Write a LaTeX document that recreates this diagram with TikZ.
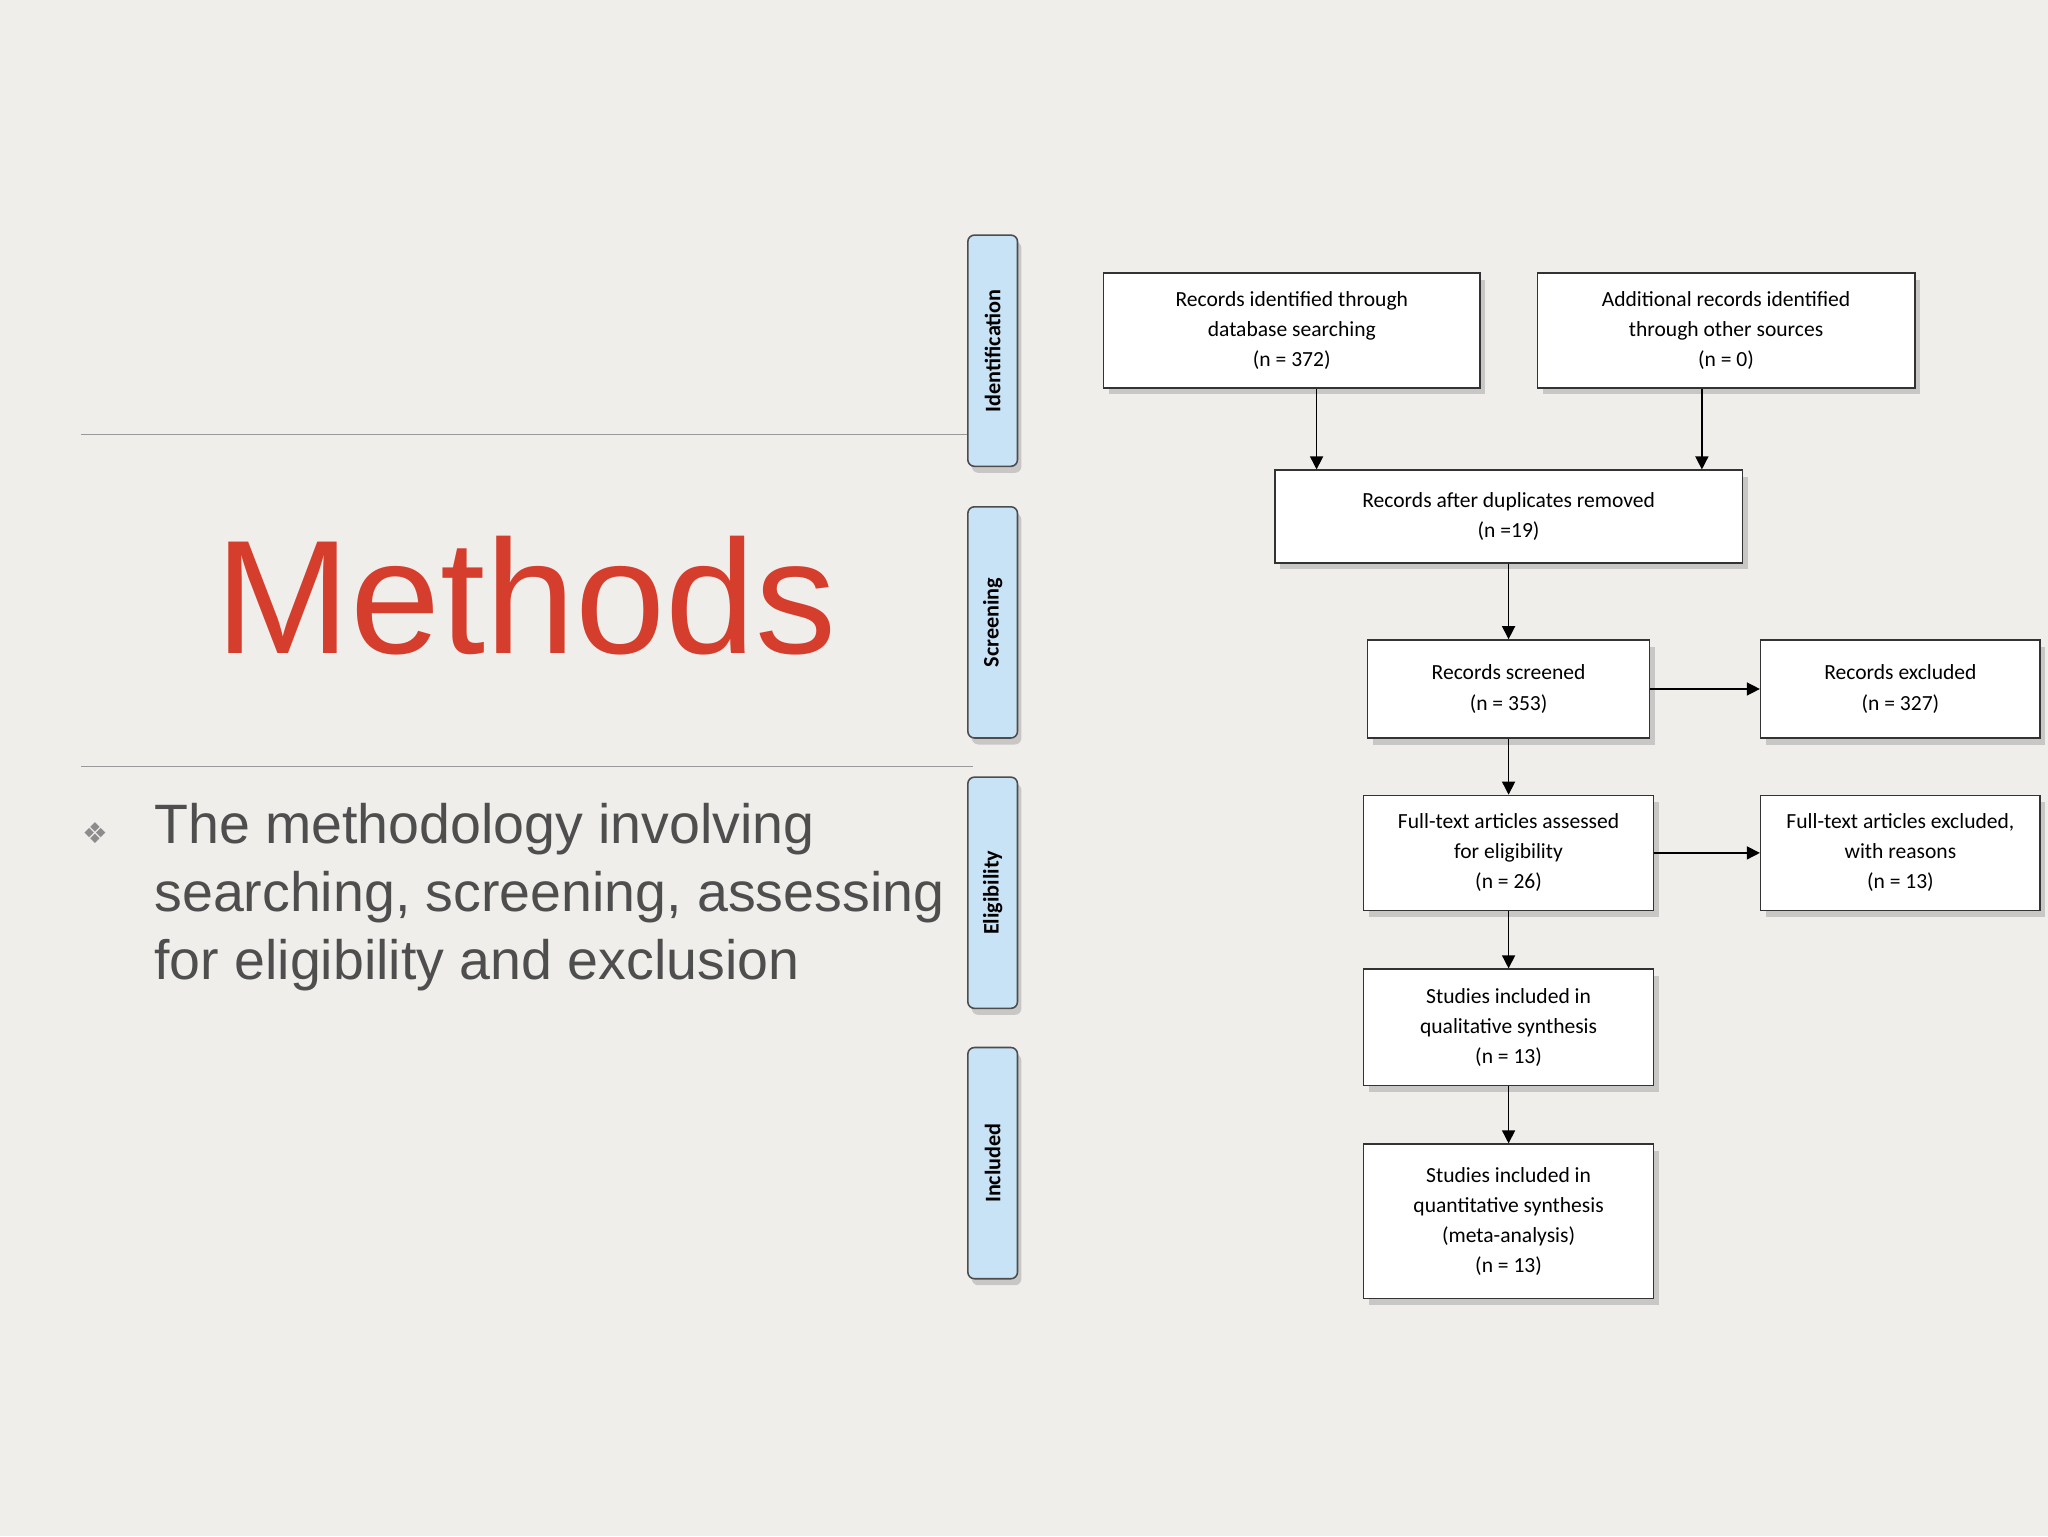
\documentclass[tikz,border=0pt]{standalone}
\usepackage{fontspec}
\setmainfont{Liberation Sans}
\newfontfamily\boxfont{Carlito}
\usetikzlibrary{shadows,arrows.meta}
\definecolor{bg}{RGB}{240,238,235}
\definecolor{mred}{RGB}{213,62,45}
\definecolor{tgray}{RGB}{78,78,78}
\definecolor{tabblue}{RGB}{200,226,246}
\tikzset{
 fbox/.style={draw=black!80,line width=1.2pt,fill=white,align=center,font=\boxfont\fontsize{16.5}{23}\selectfont,drop shadow={shadow xshift=4pt,shadow yshift=-5pt,opacity=0.35}},
 tab/.style={draw=black!70,line width=1.2pt,fill=tabblue,rounded corners=5pt,drop shadow={shadow xshift=3pt,shadow yshift=-5pt,opacity=0.35}},
 arr/.style={line width=1.1pt,-{Triangle[length=10pt,width=10pt]}}
}
\begin{document}
\begin{tikzpicture}[x=1pt,y=-1pt]
\fill[bg] (0,0) rectangle (1568,1176);
\useasboundingbox (0,0) rectangle (1568,1176);
\draw[black!40,line width=0.8pt] (62,333) -- (740,333);
\draw[black!40,line width=0.8pt] (62,587) -- (745,587);
\node[text=mred,font=\fontsize{124}{140}\selectfont] (title) at (403,456) {Methods};
\node[text=black!45,font=\fontsize{22}{24}\selectfont,anchor=west] (bul) at (60,638) {\fontspec{DejaVu Sans}❖};
\node[text=tgray,font=\fontsize{42.5}{52}\selectfont,anchor=north west,align=left,inner sep=0pt] (btxt) at (118,615) {The methodology involving\\searching, screening, assessing\\for eligibility and exclusion};
% tabs
\foreach \n/\t/\b/\lab in {t1/180/357/Identification,t2/388/565/Screening,t3/595/772/Eligibility,t4/802/979/Included}{
 \draw[tab] (741,\t) rectangle (779,\b);
 \node[rotate=90,font=\boxfont\bfseries\fontsize{17}{20}\selectfont] (\n) at (760,{(\t+\b)/2}) {\lab};
}
% boxes
\node[fbox,minimum width=288pt,minimum height=88pt] (A) at (989,253) {Records identified through\\database searching\\(n = 372)};
\node[fbox,minimum width=289pt,minimum height=88pt] (B) at (1321.5,253) {Additional records identified\\through other sources\\(n = 0)};
\node[fbox,minimum width=358pt,minimum height=71pt] (C) at (1155,395.5) {Records after duplicates removed\\(n =19)};
\node[fbox,minimum width=216pt,minimum height=75pt] (D) at (1155,527.5) {Records screened\\(n = 353)};
\node[fbox,minimum width=214pt,minimum height=75pt] (E) at (1455,527.5) {Records excluded\\(n = 327)};
\node[fbox,minimum width=222pt,minimum height=88pt] (F) at (1155,653) {Full-text articles assessed\\for eligibility\\(n = 26)};
\node[fbox,minimum width=214pt,minimum height=88pt] (G) at (1455,653) {Full-text articles excluded,\\with reasons\\(n = 13)};
\node[fbox,minimum width=222pt,minimum height=89pt] (H) at (1155,786.5) {Studies included in\\qualitative synthesis\\(n = 13)};
\node[fbox,minimum width=222pt,minimum height=118pt] (I) at (1155,935) {Studies included in\\quantitative synthesis\\(meta-analysis)\\(n = 13)};
\coordinate (xa) at (1008,0);
\coordinate (xb) at (1303,0);
\draw[arr] (A.south -| xa) -- (C.north -| xa);
\draw[arr] (B.south -| xb) -- (C.north -| xb);
\draw[arr] (C) -- (D);
\draw[arr] (D) -- (E);
\draw[arr] (D) -- (F);
\draw[arr] (F) -- (G);
\draw[arr] (F) -- (H);
\draw[arr] (H) -- (I);
\end{tikzpicture}
\end{document}
